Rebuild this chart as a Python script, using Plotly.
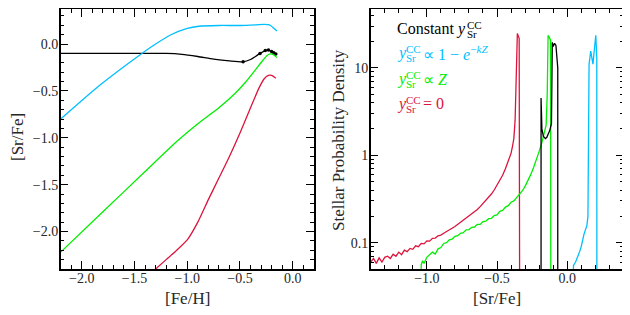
import plotly.graph_objects as go

# ---------------- data: left panel ([Sr/Fe] vs [Fe/H]) ----------------
feh_const = [-2.2, -1.5, -1.2, -1.05, -0.9, -0.75, -0.6, -0.47, -0.4, -0.35, -0.31, -0.26, -0.23, -0.2, -0.18, -0.16]
srfe_const = [-0.1, -0.1, -0.1, -0.11, -0.133, -0.16, -0.18, -0.19, -0.165, -0.13, -0.1, -0.07, -0.064, -0.08, -0.092, -0.107]
feh_const_marks = [-0.47, -0.31, -0.26, -0.23, -0.2, -0.18, -0.16]
srfe_const_marks = [-0.19, -0.1, -0.07, -0.064, -0.08, -0.092, -0.107]

feh_exp = [-2.2, -1.83, -1.43, -1.3, -1.16, -1.0, -0.89, -0.7, -0.5, -0.35, -0.27, -0.22, -0.19, -0.15]
srfe_exp = [-0.80, -0.44, -0.10, 0.0, 0.096, 0.167, 0.19, 0.198, 0.198, 0.205, 0.21, 0.205, 0.18, 0.14]

feh_lin = [-2.2, -1.8, -1.4, -1.1, -0.9, -0.7, -0.55, -0.45, -0.35, -0.28, -0.24, -0.21, -0.18, -0.15]
srfe_lin = [-2.22, -1.79, -1.36, -1.04, -0.85, -0.68, -0.53, -0.41, -0.27, -0.17, -0.12, -0.105, -0.115, -0.145]

feh_zero = [-1.35, -1.2, -1.1, -1.0, -0.9, -0.8, -0.7, -0.6, -0.5, -0.4, -0.32, -0.27, -0.23, -0.2, -0.16]
srfe_zero = [-2.45, -2.3, -2.2, -2.09, -1.9, -1.66, -1.43, -1.2, -0.95, -0.68, -0.47, -0.37, -0.335, -0.335, -0.365]

# ---------------- data: right panel (MDF of [Sr/Fe]) ----------------
sr_const = [-0.186, -0.186, -0.18, -0.17, -0.155, -0.145, -0.135, -0.125, -0.112, -0.106, -0.1, -0.09, -0.08, -0.072, -0.067, -0.067]
pdf_const = [0.001, 4.5, 2.0, 1.65, 1.55, 1.6, 1.75, 1.9, 2.3, 19.5, 17.5, 19.0, 18.0, 13.5, 10.0, 0.001]

sr_exp = [0.032, 0.045, 0.06, 0.07, 0.08, 0.09, 0.1, 0.11, 0.12, 0.13, 0.14, 0.148, 0.152, 0.156, 0.162, 0.168, 0.176, 0.184, 0.19, 0.197, 0.204, 0.211, 0.212]
pdf_exp = [0.001, 0.055, 0.06, 0.066, 0.07, 0.08, 0.09, 0.11, 0.125, 0.14, 0.155, 0.2, 1.0, 11.0, 13.0, 15.5, 13.0, 11.0, 14.0, 18.5, 23.5, 13.0, 0.001]

sr_lin = [-1.05, -1.04, -1.03, -1.02, -1.0, -0.98, -0.96, -0.94, -0.92, -0.9, -0.88, -0.86, -0.84, -0.82, -0.8,
          -0.78, -0.76, -0.74, -0.72, -0.7, -0.68, -0.66, -0.64, -0.62, -0.6, -0.58, -0.56, -0.54, -0.52, -0.5,
          -0.48, -0.46, -0.44, -0.42, -0.4, -0.38, -0.36, -0.34, -0.32, -0.3, -0.28, -0.26, -0.24, -0.22, -0.2,
          -0.18, -0.16, -0.15, -0.142, -0.136, -0.128, -0.118, -0.116]
pdf_lin = [0.001, 0.056, 0.062, 0.058, 0.068, 0.072, 0.078, 0.074, 0.085, 0.088, 0.098, 0.1, 0.108, 0.11, 0.118,
           0.12, 0.128, 0.13, 0.14, 0.141, 0.15, 0.151, 0.162, 0.162, 0.174, 0.176, 0.188, 0.19, 0.204, 0.208,
           0.228, 0.234, 0.255, 0.265, 0.29, 0.3, 0.325, 0.35, 0.39, 0.44, 0.51, 0.6, 0.72, 0.88, 1.1,
           1.4, 1.85, 2.2, 5.0, 23.4, 22.5, 20.5, 0.001]

sr_zero = [-1.4, -1.38, -1.36, -1.34, -1.32, -1.3, -1.28, -1.26, -1.24, -1.22, -1.2, -1.18, -1.16, -1.14, -1.12,
           -1.1, -1.08, -1.06, -1.04, -1.02, -1.0, -0.98, -0.96, -0.94, -0.92, -0.9, -0.88, -0.86, -0.84, -0.82,
           -0.8, -0.78, -0.76, -0.74, -0.72, -0.7, -0.68, -0.66, -0.64, -0.62, -0.6, -0.58, -0.56, -0.54, -0.52,
           -0.5, -0.48, -0.46, -0.44, -0.42, -0.4, -0.39, -0.38, -0.371, -0.355, -0.342, -0.337]
pdf_zero = [0.060, 0.066, 0.058, 0.067, 0.060, 0.068, 0.070, 0.066, 0.074, 0.070, 0.078, 0.073, 0.082, 0.079, 0.086,
            0.084, 0.092, 0.090, 0.098, 0.097, 0.105, 0.104, 0.112, 0.113, 0.120, 0.122, 0.128, 0.133, 0.140, 0.146,
            0.153, 0.162, 0.170, 0.180, 0.190, 0.200, 0.212, 0.225, 0.240, 0.258, 0.280, 0.300, 0.330, 0.360, 0.400,
            0.450, 0.510, 0.590, 0.700, 0.850, 1.05, 1.25, 1.55, 2.5, 24.6, 21.7, 0.001]

# tick labels
left_x_ticks = [-2.0, -1.5, -1.0, -0.5, 0.0]
left_x_labels = ["−2.0", "−1.5", "−1.0", "−0.5", "0.0"]
left_y_ticks = [0.0, -0.5, -1.0, -1.5, -2.0]
left_y_labels = ["0.0", "−0.5", "−1.0", "−1.5", "−2.0"]
right_x_ticks = [-1.0, -0.5, 0.0]
right_x_labels = ["−1.0", "−0.5", "0.0"]
right_y_ticks = [0.1, 1, 10]
right_y_labels = ["0.1", "1", "10"]

BLACK = "#000000"
BLUE = "#00BFFF"
GREEN = "#00EE00"
RED = "#DC143C"
FONT = "Liberation Serif, serif"
TXT = "#262626"

fig = go.Figure()
lw = 1.3
sp = dict(shape="spline", smoothing=0.6)
fig.add_trace(go.Scatter(x=feh_const, y=srfe_const, mode="lines", line=dict(color=BLACK, width=lw, **sp), xaxis="x", yaxis="y"))
fig.add_trace(go.Scatter(x=feh_const_marks, y=srfe_const_marks, mode="markers", marker=dict(color=BLACK, size=3.5), xaxis="x", yaxis="y"))
fig.add_trace(go.Scatter(x=feh_exp, y=srfe_exp, mode="lines", line=dict(color=BLUE, width=lw, **sp), xaxis="x", yaxis="y"))
fig.add_trace(go.Scatter(x=feh_lin, y=srfe_lin, mode="lines", line=dict(color=GREEN, width=lw, **sp), xaxis="x", yaxis="y"))
fig.add_trace(go.Scatter(x=feh_zero, y=srfe_zero, mode="lines", line=dict(color=RED, width=lw, **sp), xaxis="x", yaxis="y"))

fig.add_trace(go.Scatter(x=sr_zero, y=pdf_zero, mode="lines", line=dict(color=RED, width=lw), xaxis="x2", yaxis="y2"))
fig.add_trace(go.Scatter(x=sr_lin, y=pdf_lin, mode="lines", line=dict(color=GREEN, width=lw), xaxis="x2", yaxis="y2"))
fig.add_trace(go.Scatter(x=sr_const, y=pdf_const, mode="lines", line=dict(color=BLACK, width=lw), xaxis="x2", yaxis="y2"))
fig.add_trace(go.Scatter(x=sr_exp, y=pdf_exp, mode="lines", line=dict(color=BLUE, width=lw), xaxis="x2", yaxis="y2"))

# The page body has an 8 px margin, so the figure is sized to fill the window
# from (8, 8) and all screen positions are converted with that offset.
OFF = 8
W, H = 630 - OFF, 315 - OFF


def X(px):
    return (px - OFF) / W


def Y(py):
    return 1 - (py - OFF) / H


TOP, BOT = 8.8, 269
ax_common = dict(showline=True, linecolor="black", linewidth=1.5, mirror="ticks", ticks="inside",
                 ticklen=8, tickwidth=1.2, tickcolor="black", showgrid=False, zeroline=False,
                 tickfont=dict(family=FONT, size=14, color=TXT))
minor_lin = dict(ticks="inside", ticklen=4, dtick=0.1, tick0=0, tickcolor="black", showgrid=False)

fig.update_layout(
    width=W, height=H, margin=dict(l=0, r=0, t=0, b=0),
    paper_bgcolor="white", plot_bgcolor="white", showlegend=False,
    font=dict(family=FONT, color=TXT),
    xaxis=dict(domain=[X(60.7), X(313.8)], range=[-2.2, 0.2], tickvals=left_x_ticks,
               ticktext=left_x_labels, minor=minor_lin, anchor="y", ticklabelstandoff=-5, **ax_common),
    yaxis=dict(domain=[Y(BOT), Y(TOP)], range=[-2.4, 0.376], tickvals=left_y_ticks,
               ticktext=left_y_labels, minor=minor_lin, anchor="x", ticklabelstandoff=-2, **ax_common),
    xaxis2=dict(domain=[X(370.7), X(623.3)], range=[-1.4, 0.4], tickvals=right_x_ticks,
                ticktext=right_x_labels, minor=minor_lin, anchor="y2", ticklabelstandoff=-5, **ax_common),
    yaxis2=dict(domain=[Y(BOT), Y(TOP)], type="log", range=[-1.301, 1.674], tickvals=right_y_ticks,
                ticktext=right_y_labels,
                minor=dict(ticks="inside", ticklen=4, tickcolor="black", showgrid=False,
                           tickvals=[0.05, 0.06, 0.07, 0.08, 0.09, 0.2, 0.3, 0.4, 0.5, 0.6, 0.7, 0.8, 0.9,
                                     2, 3, 4, 5, 6, 7, 8, 9, 20, 30, 40]),
                anchor="x2", ticklabelstandoff=-2, **ax_common),
)


def ann(text, xpx, ypx, size, color=TXT, angle=0, xanchor="left"):
    fig.add_annotation(text=text, xref="paper", yref="paper", x=X(xpx), y=Y(ypx),
                       xanchor=xanchor, yanchor="middle", showarrow=False, textangle=angle,
                       borderpad=0, font=dict(family=FONT, size=size, color=color))


# axis titles
ann("[Fe/H]", 187, 298, 17, xanchor="center")
ann("[Sr/Fe]", 497, 298, 17, xanchor="center")
ann("[Sr/Fe]", 17, 137, 17, angle=-90, xanchor="center")
ann("Stellar Probability Density", 338, 140, 17, angle=-90, xanchor="center")

# legend (text labels with stacked super/subscripts)
SUP, SUB = "CC", "Sr"
ann("Constant <i>y</i>", 396, 29, 16, BLACK)
ann(SUP, 466, 25, 11, BLACK)
ann(SUB, 466, 34, 11, BLACK)

for ypx, col, rest in [(53, BLUE, "∝ 1 − <i>e</i><sup>−<i>kZ</i></sup>"),
                       (79, GREEN, "∝ <i>Z</i>"),
                       (104, RED, "= 0")]:
    ann("<i>y</i>", 396, ypx, 16, col)
    ann(SUP, 405, ypx - 4, 11, col)
    ann(SUB, 405, ypx + 5, 11, col)
    ann(rest, 422, ypx, 16, col)

fig.write_html("out.html")
